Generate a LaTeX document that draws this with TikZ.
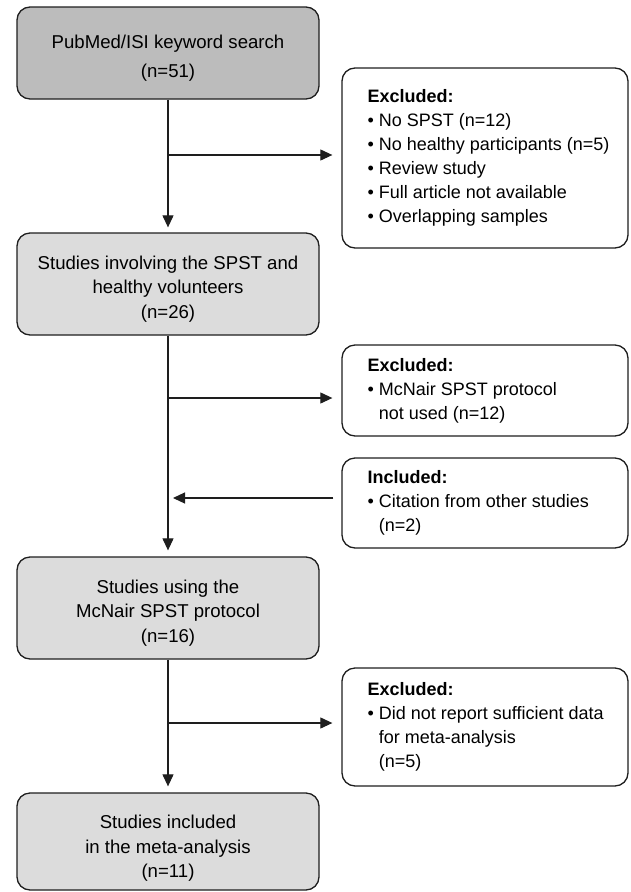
\documentclass[tikz,border=0pt]{standalone}
\usepackage{fontspec}
\setmainfont{Liberation Sans}
\usetikzlibrary{arrows.meta}
\definecolor{darkbox}{RGB}{188,188,188}
\definecolor{lightbox}{RGB}{220,220,220}
\definecolor{ink}{RGB}{30,30,30}
\newcommand{\bltmark}{•\ }
\newcommand{\bltind}{\hphantom{•\ }}
\begin{document}
\begin{tikzpicture}[x=1pt,y=-1pt,
  mainbox/.style={draw=ink, line width=1.3pt, rounded corners=13pt, minimum width=302pt, inner sep=0pt},
  maintext/.style={align=center, inner sep=0pt, font=\fontsize{18.6}{24.5}\selectfont},
  sidebox/.style={draw=ink, line width=1.3pt, rounded corners=13pt, minimum width=286pt, inner sep=0pt, fill=white},
  sidetext/.style={anchor=west, align=left, inner sep=0pt, font=\fontsize{18}{24}\selectfont},
  arr/.style={draw=ink, line width=1.1pt, -{Triangle[length=12pt,width=11pt]}}
]
\useasboundingbox (0,0) rectangle (630,892);

% main column
\node[mainbox, fill=darkbox, minimum height=92pt] (b1) at (168,53) {};
\node[maintext, font=\fontsize{18.6}{29}\selectfont] (b1t) at (168,58) {PubMed/ISI keyword search\\(n=51)};
\node[mainbox, fill=lightbox, minimum height=102pt] (b2) at (168,284) {};
\node[maintext] (b2t) at (168,289) {Studies involving the SPST and\\healthy volunteers\\(n=26)};
\node[mainbox, fill=lightbox, minimum height=102pt] (b3) at (168,608) {};
\node[maintext] (b3t) at (168,613) {Studies using the\\McNair SPST protocol\\(n=16)};
\node[mainbox, fill=lightbox, minimum height=97pt] (b4) at (168,841.5) {};
\node[maintext] (b4t) at (168,848.5) {Studies included\\in the meta-analysis\\(n=11)};

% side boxes
\node[sidebox, minimum height=180pt] (e1) at (485,158) {};
\node[sidetext] (e1t) at ([xshift=26pt]e1.west) {\textbf{Excluded:}\\\bltmark No SPST (n=12)\\\bltmark No healthy participants (n=5)\\\bltmark Review study\\\bltmark Full article not available\\\bltmark Overlapping samples};

\node[sidebox, minimum height=91pt] (e2) at (485,390.5) {};
\node[sidetext] (e2t) at ([xshift=26pt]e2.west) {\textbf{Excluded:}\\\bltmark McNair SPST protocol\\\bltind not used (n=12)};

\node[sidebox, minimum height=90pt] (inc) at (485,503) {};
\node[sidetext] (inct) at ([xshift=26pt]inc.west) {\textbf{Included:}\\\bltmark Citation from other studies\\\bltind (n=2)};

\node[sidebox, minimum height=118pt] (e3) at (485,727) {};
\node[sidetext] (e3t) at ([xshift=26pt]e3.west) {\textbf{Excluded:}\\\bltmark Did not report sufficient data\\\bltind for meta-analysis\\\bltind (n=5)};

% junctions
\coordinate (j1) at (168,155);
\coordinate (j2) at (168,398);
\coordinate (j3) at (168,498);
\coordinate (j4) at (168,723);

% vertical arrows
\draw[arr, shorten >=5pt] (b1.south) -- (b2.north);
\draw[arr, shorten >=6pt] (b2.south) -- (b3.north);
\draw[arr, shorten >=6pt] (b3.south) -- (b4.north);

% horizontal arrows
\draw[arr, shorten >=9pt] (j1) -- (j1 -| e1.west);
\draw[arr, shorten >=9pt] (j2) -- (j2 -| e2.west);
\draw[arr, shorten <=8pt, shorten >=5pt] (j3 -| inc.west) -- (j3);
\draw[arr, shorten >=9pt] (j4) -- (j4 -| e3.west);
\end{tikzpicture}
\end{document}
